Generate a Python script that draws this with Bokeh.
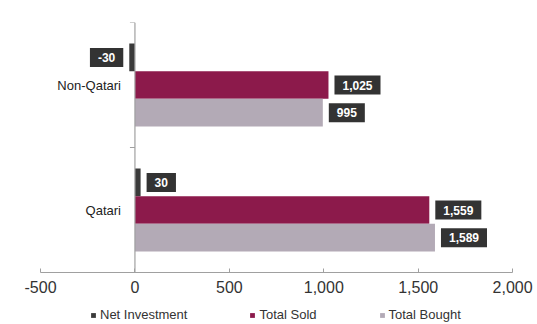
from bokeh.plotting import figure
from bokeh.models import Range1d, ColumnDataSource, Legend, LegendItem, FixedTicker, NumeralTickFormatter
from bokeh.core.properties import value
from bokeh.embed import file_html
from bokeh.resources import INLINE

categories = ["Qatari", "Non-Qatari"]
net_investment = [30, -30]
total_sold = [1559, 1025]
total_bought = [1589, 995]
x_ticks = [-500, 0, 500, 1000, 1500, 2000]
series_names = ["Net Investment", "Total Sold", "Total Bought"]
colors = ["#3a3a3a", "#8c1a4b", "#b3aab6"]

FONT = "Liberation Sans"
bar_h = 0.221
offsets = [bar_h, 0.0, -bar_h]

# frame covers the whole page; the axis spans -500..2000 inside it
p = figure(frame_width=537, frame_height=302, output_backend="svg", toolbar_location=None,
           x_range=Range1d(-712, 2132), y_range=Range1d(-0.416, 2),
           y_axis_location=None, min_border_left=0, min_border_right=0,
           min_border_top=22, min_border_bottom=0)
p.outline_line_color = None
p.xgrid.visible = False
p.ygrid.visible = False

centers = [i + 0.5 for i in range(len(categories))]
renderers = []
for vals, off, col in zip([net_investment, total_sold, total_bought], offsets, colors):
    ys = [c + off for c in centers]
    src = ColumnDataSource(dict(y=ys, right=vals))
    r = p.hbar(y="y", left=0, right="right", height=bar_h, source=src,
               fill_color=col, line_color=None)
    renderers.append(r)
    for positive in (True, False):
        idx = [i for i, v in enumerate(vals) if (v >= 0) == positive]
        if not idx:
            continue
        lbl = ColumnDataSource(dict(x=[vals[i] for i in idx], y=[ys[i] for i in idx],
                                    t=[f"{vals[i]:,}" for i in idx]))
        p.text(x="x", y="y", text="t", source=lbl,
               text_align="left" if positive else "right",
               x_offset=6 if positive else -6,
               text_baseline="middle", text_color="white", text_font=value(FONT),
               text_font_size="12px", text_font_style="bold",
               background_fill_color="#333333", padding=(8, 5))

# vertical axis line at zero with category boundary ticks
bounds = list(range(len(categories) + 1))
p.segment(x0=[0], y0=[bounds[0]], x1=[0], y1=[bounds[-1]], line_color="#a0a0a0", line_width=1.2)
p.ray(x=[0] * len(bounds), y=bounds, length=5, length_units="screen", angle=3.14159,
      line_color="#a0a0a0", line_width=1.2)
p.text(x=[0] * len(categories), y=centers, text=categories, x_offset=-14,
       text_align="right", text_baseline="middle", text_color="#222222",
       text_font=value(FONT), text_font_size="13px")

ax = p.xaxis[0]
ax.fixed_location = 0
ax.bounds = (x_ticks[0], x_ticks[-1])
ax.ticker = FixedTicker(ticks=x_ticks)
ax.formatter = NumeralTickFormatter(format="0,0")
ax.axis_line_color = "#a0a0a0"
ax.axis_line_width = 1.2
ax.major_tick_line_color = "#a0a0a0"
ax.major_tick_in = 4
ax.major_tick_out = 0
ax.minor_tick_line_color = None
ax.major_label_text_font = FONT
ax.major_label_text_font_size = "16px"
ax.major_label_text_color = "#333333"
ax.major_label_standoff = 8

legend = Legend(items=[LegendItem(label=n, renderers=[r]) for n, r in zip(series_names, renderers)],
                orientation="horizontal", location=(90, 2),
                glyph_width=6, glyph_height=6, label_height=14, label_text_font=FONT,
                label_text_font_size="13px", label_text_color="#333333",
                spacing=62, label_standoff=4, padding=2, margin=0,
                border_line_color=None, background_fill_alpha=0)
p.add_layout(legend)

open("out.html", "w").write(file_html(p, INLINE))
